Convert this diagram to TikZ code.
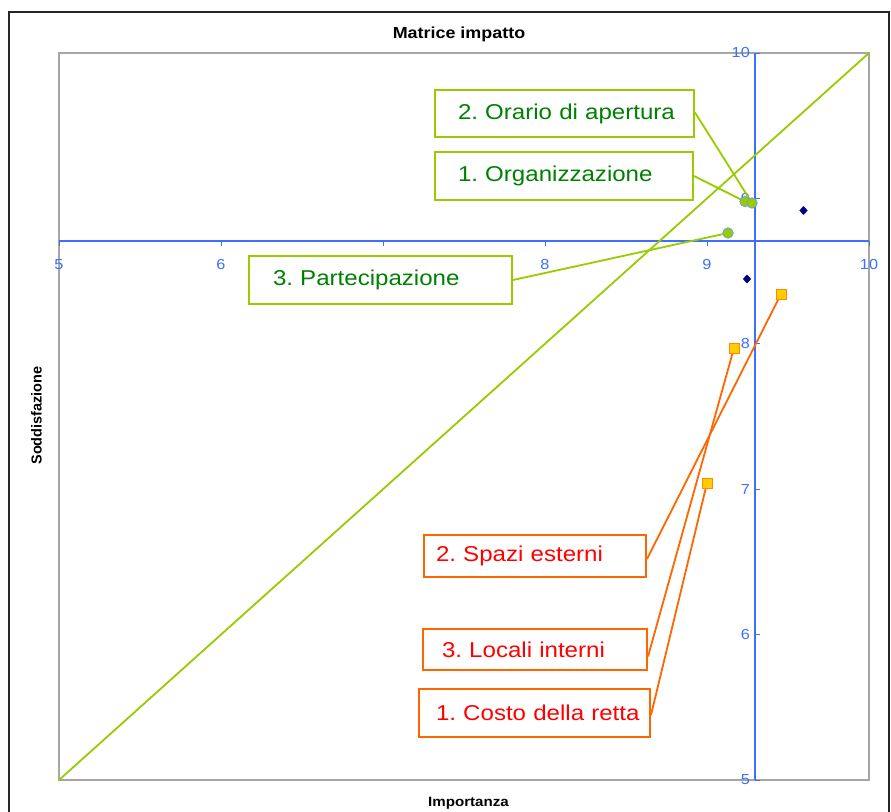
\documentclass[tikz,border=0pt]{standalone}
\usepackage{fontspec}
\setmainfont{Liberation Sans}[FakeStretch=1.12]
\newfontfamily\plainsans{Liberation Sans}
\usetikzlibrary{shapes.geometric}
\frenchspacing
\definecolor{axblue}{HTML}{3F6FFF}
\definecolor{lgreen}{HTML}{99CC00}
\definecolor{tgreen}{HTML}{008000}
\definecolor{orln}{HTML}{FF6600}
\definecolor{sqfill}{HTML}{FFCC00}
\definecolor{sqline}{HTML}{FF8C00}
\definecolor{navyc}{HTML}{000080}
\definecolor{ptblue}{HTML}{6699FF}
\definecolor{plotgray}{HTML}{A6A6A6}
\begin{document}
\begin{tikzpicture}[x=1pt,y=-1pt,
  gbox/.style={draw=lgreen, line width=2pt, fill=white, text=tgreen,
    font=\fontsize{21.5}{25}\selectfont, align=left, anchor=north west,
    inner xsep=0pt, inner ysep=0pt},
  obox/.style={gbox, draw=orln, text=red},
  gline/.style={draw=lgreen, line width=1.8pt},
  oline/.style={draw=orln, line width=1.8pt},
  gpt/.style={circle, fill=lgreen, draw=ptblue, line width=0.7pt, minimum size=10.5pt, inner sep=0pt},
  opt/.style={rectangle, fill=sqfill, draw=sqline, line width=1pt, minimum size=10pt, inner sep=0pt},
  dpt/.style={diamond, fill=navyc, minimum width=8.5pt, minimum height=9pt, inner sep=0pt},
  tick/.style={draw=axblue, line width=1pt},
  ticklab/.style={text=axblue, font=\fontsize{14.5}{16}\selectfont, inner sep=0pt},
  axtitle/.style={font=\bfseries\fontsize{13.5}{15}\selectfont, inner sep=0pt}
]
\useasboundingbox (0,0) rectangle (891,811);
\fill[white] (0,0) rectangle (891,811);
\begin{scope}
\clip (0,0) rectangle (891,811);
\draw[line width=1.5pt, black!85] (9,12) rectangle (889,840);
\end{scope}
% plot area
\draw[plotgray, line width=1.2pt] (59,53) rectangle (869,780);
% axes
\draw[axblue, line width=1.1pt] (59,241) -- (869,241);
\draw[axblue, line width=1.1pt] (755,53) -- (755,780);
% ticks and labels
\foreach \px in {59,221,383,545,707,869}{
  \draw[tick] (\px,241) -- (\px,245.5);
}
\foreach \v/\px in {5/59,6/221,8/545,9/707,10/869}{
  \node[ticklab, anchor=center] at (\px,264.5) {\v};
}
\foreach \v/\py in {10/53,9/198.4,8/343.8,7/489.2,6/634.6,5/780}{
  \draw[tick] (755,\py) -- (759.5,\py);
  \node[ticklab, anchor=east] at (750,\py) {\v};
}
% titles
\node[font=\bfseries\fontsize{16}{19}\selectfont, anchor=base, inner sep=0pt] (title) at (459,38.3) {Matrice impatto};
\node[axtitle, anchor=base] (xt) at (468.5,806.7) {Importanza};
\node[font=\plainsans\bfseries\fontsize{14.5}{17}\selectfont, anchor=base, rotate=90, inner sep=0pt] (yt) at (41.5,415.5) {Soddisfazione};
% diagonal
\coordinate (d0) at (59,780);
\coordinate (d1) at (869,53);
\draw[gline] (d0) -- (d1);
% data points
\coordinate (g1) at (728,233);
\coordinate (g2) at (745,201.5);
\coordinate (g3) at (752,203);
\coordinate (s1) at (781,294);
\coordinate (s2) at (734,348);
\coordinate (s3) at (707,483);
% boxes
\node[gbox, minimum width=259pt, minimum height=47pt, text width=259pt] (orario) at (434,89) {\hspace*{23pt}2. Orario di apertura};
\node[gbox, minimum width=258pt, minimum height=48pt, text width=258pt] (organ) at (434,151) {\hspace*{23pt}1. Organizzazione};
\node[gbox, minimum width=263pt, minimum height=48pt, text width=263pt] (partec) at (248,255) {\hspace*{24pt}3. Partecipazione};
\node[obox, minimum width=222pt, minimum height=42pt, text width=222pt] (spazi) at (423,534) {\hspace*{12pt}2. Spazi esterni};
\node[obox, minimum width=224pt, minimum height=41pt, text width=224pt] (locali) at (422,628) {\hspace*{19pt}3. Locali interni};
\node[obox, minimum width=231pt, minimum height=48pt, text width=231pt] (costo) at (418,688) {\hspace*{17pt}1. Costo della retta};
% connectors
\draw[gline] ([yshift=1pt]orario.east) -- (g3);
\draw[gline] (organ.east) -- (g2);
\draw[gline] (partec.east) -- (g1);
\draw[oline] ([yshift=-3pt]spazi.east) -- (s1);
\draw[oline] ([yshift=-7pt]locali.east) -- (s2);
\draw[oline] ([yshift=-2pt]costo.east) -- (s3);
% markers
\node[gpt] (pg1) at (g1) {};
\node[gpt] (pg2) at (g2) {};
\node[gpt] (pg3) at (g3) {};
\node[opt] (ps1) at (s1) {};
\node[opt] (ps2) at (s2) {};
\node[opt] (ps3) at (s3) {};
\node[dpt] (n1) at (803.5,210.5) {};
\node[dpt] (n2) at (747,279) {};
\end{tikzpicture}
\end{document}
